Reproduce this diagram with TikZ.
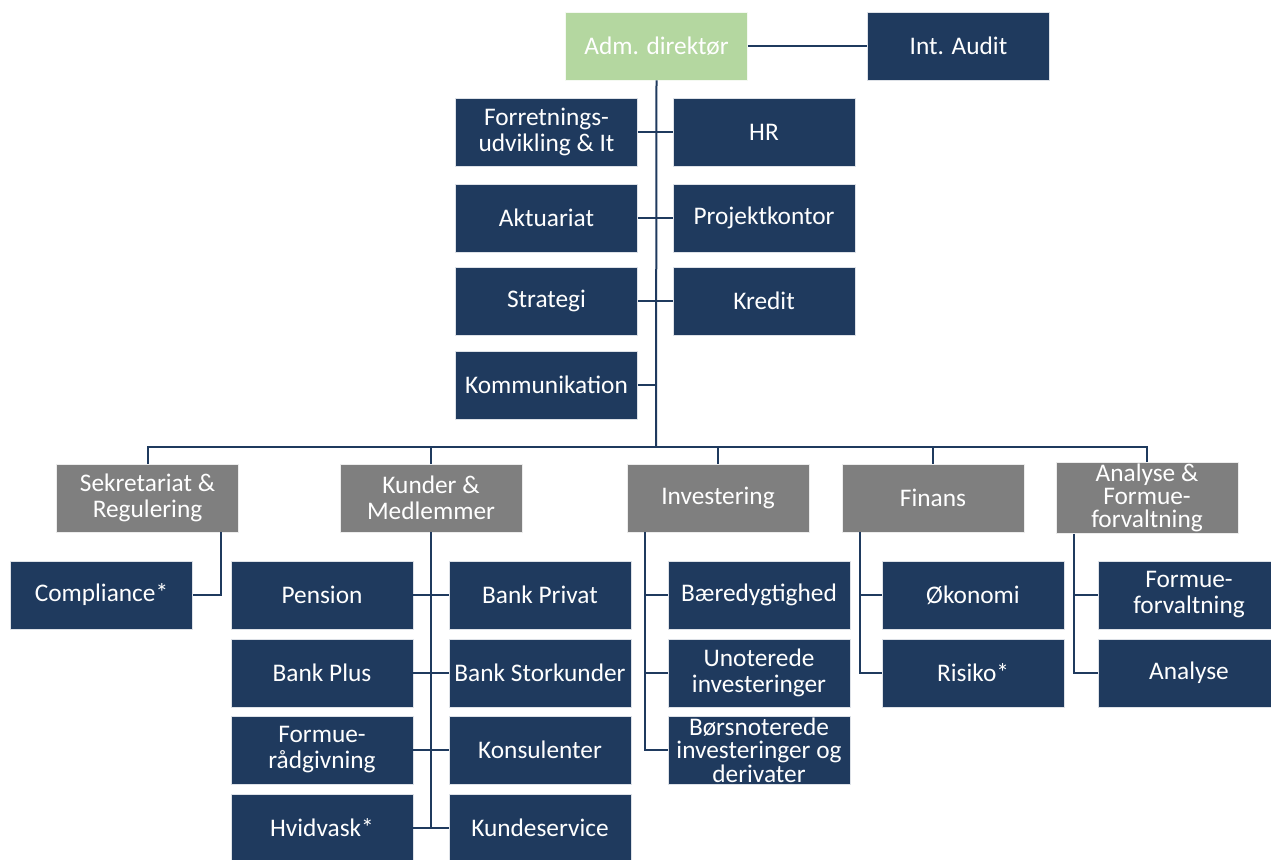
\documentclass[tikz,border=0pt]{standalone}
\usepackage{fontspec}
\setmainfont{Carlito}
\definecolor{navy}{RGB}{31,58,94}
\definecolor{lgreen}{RGB}{180,215,160}
\definecolor{dgray}{RGB}{127,127,127}
\begin{document}
\begin{tikzpicture}[x=0.75pt,y=-0.75pt,
  box/.style={rectangle,fill=navy,draw=white!85!navy,line width=0.4pt,text=white,
    minimum width=136.5pt,minimum height=51pt,inner sep=1pt,align=center,
    font=\fontsize{19}{19.5}\selectfont},
  gbox/.style={box,fill=dgray,draw=white!85!dgray},
  topbox/.style={box,fill=lgreen,draw=white!85!lgreen},
  tight/.style={font=\fontsize{19}{17.5}\selectfont},
  conn/.style={draw=navy,line width=1.5pt}]
\clip (0,0) rectangle (1271,860);
\useasboundingbox (0,0) rectangle (1271,860);
\fill[white] (0,0) rectangle (1271,860);
% top
\node[topbox] (adm) at (656.5,46) {Adm. direktør};
\node[box] (audit) at (958.5,46) {Int. Audit};
% staff
\node[box] (forr) at (546.5,132) {Forretnings-\\udvikling \& It};
\node[box] (hr) at (764,132) {HR};
\node[box] (akt) at (546.5,218) {Aktuariat};
\node[box] (proj) at (764,218) {Projektkontor};
\node[box] (strat) at (546.5,301) {Strategi};
\node[box] (kred) at (764,301) {Kredit};
\node[box] (komm) at (546.5,385) {Kommunikation};
% level 2
\node[gbox] (sek) at (147.5,498) {Sekretariat \&\\Regulering};
\node[gbox] (kun) at (431,498) {Kunder \&\\Medlemmer};
\node[gbox] (inv) at (718,498) {Investering};
\node[gbox] (fin) at (933,498) {Finans};
\node[gbox,tight] (ana) at (1147,498) {Analyse \&\\Formue-\\forvaltning};
% Sekretariat children
\node[box] (comp) at (101.5,595) {Compliance*};
% Kunder children
\node[box] (pen) at (322,595) {Pension};
\node[box] (bpriv) at (540,595) {Bank Privat};
\node[box] (bplus) at (322,673) {Bank Plus};
\node[box] (bstor) at (540,673) {Bank Storkunder};
\node[box] (frad) at (322,750) {Formue-\\rådgivning};
\node[box] (kons) at (540,750) {Konsulenter};
\node[box] (hvid) at (322,828) {Hvidvask*};
\node[box] (kser) at (540,828) {Kundeservice};
% Investering children
\node[box] (baer) at (759,595) {Bæredygtighed};
\node[box] (unot) at (759,673) {Unoterede\\investeringer};
\node[box,tight] (bors) at (759,750) {Børsnoterede\\investeringer og\\derivater};
% Finans children
\node[box] (oko) at (973,595) {Økonomi};
\node[box] (ris) at (973,673) {Risiko*};
% Analyse children
\node[box] (fforv) at (1189,595) {Formue-\\forvaltning};
\node[box] (anal) at (1189,673) {Analyse};
% connectors top
\draw[conn] (adm.east) -- (audit.west);
\coordinate (bus) at (656,447);
\draw[conn] (adm.south) -- (bus);
\draw[conn] (forr.east) -- (hr.west);
\draw[conn] (akt.east) -- (proj.west);
\draw[conn] (strat.east) -- (kred.west);
\draw[conn] (komm.east) -- (komm.east -| bus);
\draw[conn] (sek.north) |- (bus);
\draw[conn] (kun.north) |- (bus);
\draw[conn] (inv.north) |- (bus);
\draw[conn] (fin.north) |- (bus);
\draw[conn] (ana.north) |- (bus);
% Sekretariat
\coordinate (sekt) at ([xshift=-13.5pt]sek.south east);
\draw[conn] (sekt) |- (comp.east);
% Kunder
\draw[conn] (kun.south) -- (kun.south |- hvid.east);
\draw[conn] (pen.east) -- (bpriv.west);
\draw[conn] (bplus.east) -- (bstor.west);
\draw[conn] (frad.east) -- (kons.west);
\draw[conn] (hvid.east) -- (kser.west);
% Investering
\coordinate (invt) at ([xshift=13.5pt]inv.south west);
\draw[conn] (invt) |- (bors.west);
\draw[conn] (baer.west) -- (baer.west -| invt);
\draw[conn] (unot.west) -- (unot.west -| invt);
% Finans
\coordinate (fint) at ([xshift=13.5pt]fin.south west);
\draw[conn] (fint) |- (ris.west);
\draw[conn] (oko.west) -- (oko.west -| fint);
% Analyse
\coordinate (anat) at ([xshift=13.5pt]ana.south west);
\draw[conn] (anat) |- (anal.west);
\draw[conn] (fforv.west) -- (fforv.west -| anat);
\end{tikzpicture}
\end{document}
